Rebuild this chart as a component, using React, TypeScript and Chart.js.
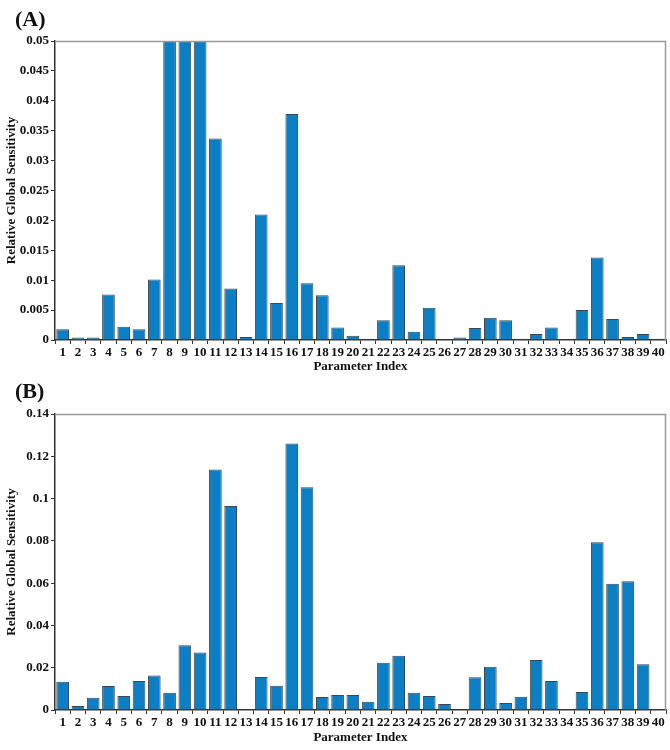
import React, { useEffect, useRef } from "react";
import { Chart, registerables } from "chart.js";

Chart.register(...registerables);

const parameterIndex = [
  "1", "2", "3", "4", "5", "6", "7", "8", "9", "10",
  "11", "12", "13", "14", "15", "16", "17", "18", "19", "20",
  "21", "22", "23", "24", "25", "26", "27", "28", "29", "30",
  "31", "32", "33", "34", "35", "36", "37", "38", "39", "40",
];

// Panel (A): bars 8-10 run past the 0.05 axis limit and are clipped
const sensitivityA = [
  0.0018, 0.0004, 0.0004, 0.0076, 0.0022, 0.0018, 0.0101, 0.068, 0.061, 0.055,
  0.0337, 0.0086, 0.0005, 0.0210, 0.0062, 0.0378, 0.0095, 0.0075, 0.0021, 0.0007,
  0.0002, 0.0033, 0.0125, 0.0014, 0.0054, 0.0001, 0.0004, 0.0020, 0.0037, 0.0033,
  0.0002, 0.0010, 0.0021, 0.0001, 0.0050, 0.0138, 0.0035, 0.0005, 0.0010, 0.0002,
];

const sensitivityB = [
  0.0134, 0.0019, 0.0058, 0.0114, 0.0066, 0.0137, 0.0163, 0.0082, 0.0306, 0.0272,
  0.1137, 0.0965, 0.0002, 0.0156, 0.0115, 0.1260, 0.1053, 0.0062, 0.0071, 0.0071,
  0.0039, 0.0223, 0.0257, 0.0081, 0.0066, 0.0028, 0.0002, 0.0155, 0.0204, 0.0033,
  0.0063, 0.0237, 0.0137, 0.0001, 0.0085, 0.0794, 0.0597, 0.0609, 0.0216, 0.0003,
];

const yTicksA = [0, 0.005, 0.01, 0.015, 0.02, 0.025, 0.03, 0.035, 0.04, 0.045, 0.05];
const yTickLabelsA = ["0", "0.005", "0.01", "0.015", "0.02", "0.025", "0.03", "0.035", "0.04", "0.045", "0.05"];

const yTicksB = [0, 0.02, 0.04, 0.06, 0.08, 0.1, 0.12, 0.14];
const yTickLabelsB = ["0", "0.02", "0.04", "0.06", "0.08", "0.1", "0.12", "0.14"];

const FONT = "'Liberation Serif', 'Times New Roman', serif";
const BAR_COLOR = "#0c7ec4";
const BAR_BORDER = "#3c4650";
const AXIS_COLOR = "#333333";

const framePlugin = {
  id: "frame",
  afterDraw(chart: any) {
    const { ctx, chartArea } = chart;
    const { left, top, right, bottom } = chartArea;
    ctx.save();
    ctx.strokeStyle = "#9a9a9a";
    ctx.lineWidth = 1.5;
    ctx.beginPath();
    ctx.moveTo(left, top + 0.5);
    ctx.lineTo(right - 0.5, top + 0.5);
    ctx.lineTo(right - 0.5, bottom);
    ctx.stroke();
    ctx.restore();
  },
};

function makeConfig(
  values: number[],
  ticks: number[],
  tickLabels: string[],
  padTop: number,
  xHeight: number,
  xTitlePad: number
): any {
  return {
    type: "bar",
    data: {
      labels: parameterIndex,
      datasets: [
        {
          data: values,
          backgroundColor: BAR_COLOR,
          borderColor: BAR_BORDER,
          borderWidth: 1,
          barPercentage: 0.83,
          categoryPercentage: 1,
        },
      ],
    },
    plugins: [framePlugin],
    options: {
      responsive: false,
      animation: false,
      devicePixelRatio: 1,
      layout: { padding: { top: padTop, right: 4, left: 0, bottom: 0 } },
      plugins: {
        legend: { display: false },
        tooltip: { enabled: false },
      },
      scales: {
        x: {
          afterFit: (scale: any) => {
            scale.height = xHeight;
          },
          grid: {
            display: true,
            drawOnChartArea: false,
            drawTicks: true,
            tickLength: 4,
            color: AXIS_COLOR,
            offset: true,
          },
          border: { display: true, color: AXIS_COLOR, width: 1.5 },
          ticks: {
            autoSkip: false,
            maxRotation: 0,
            minRotation: 0,
            padding: 1,
            color: "#111",
            font: { family: FONT, size: 13, weight: "bold" },
          },
          title: {
            display: true,
            text: "Parameter Index",
            color: "#111",
            font: { family: FONT, size: 13, weight: "bold" },
            padding: { top: 0, bottom: xTitlePad },
          },
        },
        y: {
          min: ticks[0],
          max: ticks[ticks.length - 1],
          afterFit: (scale: any) => {
            scale.width = 55;
          },
          afterBuildTicks: (scale: any) => {
            scale.ticks = ticks.map((v) => ({ value: v }));
          },
          grid: {
            display: true,
            drawOnChartArea: false,
            drawTicks: true,
            tickLength: 4,
            color: AXIS_COLOR,
          },
          border: { display: true, color: AXIS_COLOR, width: 1.5 },
          ticks: {
            padding: 2,
            color: "#111",
            font: { family: FONT, size: 13, weight: "bold" },
            callback: (_v: any, i: number) => tickLabels[i],
          },
          title: {
            display: true,
            text: "Relative Global Sensitivity",
            color: "#111",
            font: { family: FONT, size: 13, weight: "bold" },
            padding: { top: 4, bottom: 0 },
          },
        },
      },
    },
  };
}

function Panel(props: {
  top: number;
  label: string;
  labelTop: number;
  values: number[];
  ticks: number[];
  tickLabels: string[];
  padTop: number;
  xHeight: number;
  xTitlePad: number;
}) {
  const ref = useRef<HTMLCanvasElement | null>(null);
  useEffect(() => {
    if (!ref.current) return;
    const chart = new Chart(
      ref.current,
      makeConfig(props.values, props.ticks, props.tickLabels, props.padTop, props.xHeight, props.xTitlePad)
    );
    return () => chart.destroy();
  }, []);
  return (
    <div style={{ position: "absolute", left: 0, top: props.top, width: 670, height: 375 }}>
      <canvas ref={ref} width={670} height={375} style={{ display: "block", width: 670, height: 375 }} />
      <div
        style={{
          position: "absolute",
          left: 15,
          top: props.labelTop,
          fontFamily: FONT,
          fontWeight: "bold",
          fontSize: 22,
          lineHeight: "24px",
          color: "#111",
        }}
      >
        {props.label}
      </div>
    </div>
  );
}

export default function App() {
  return (
    <div style={{ position: "absolute", left: 0, top: 0, width: 670, height: 750, background: "#fff" }}>
      <Panel
        top={0}
        label="(A)"
        labelTop={7}
        values={sensitivityA}
        ticks={yTicksA}
        tickLabels={yTickLabelsA}
        padTop={41}
        xHeight={35}
        xTitlePad={1}
      />
      <Panel
        top={375}
        label="(B)"
        labelTop={4}
        values={sensitivityB}
        ticks={yTicksB}
        tickLabels={yTickLabelsB}
        padTop={39}
        xHeight={40}
        xTitlePad={5}
      />
    </div>
  );
}
